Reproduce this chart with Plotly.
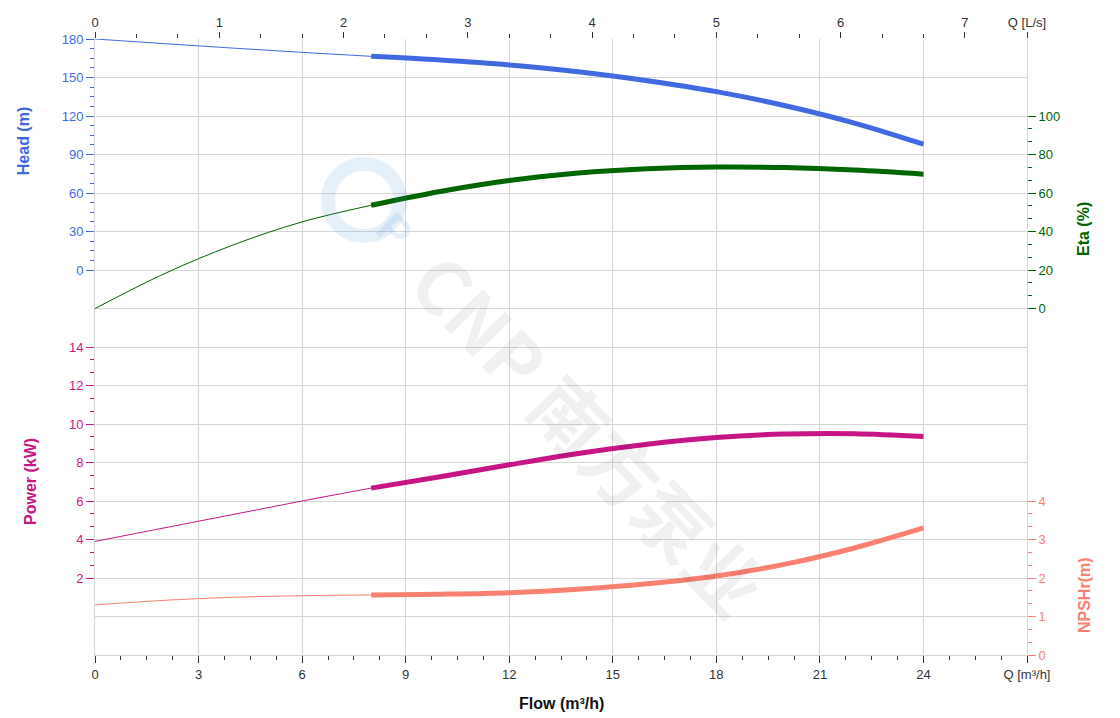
import plotly.graph_objects as go

# ---- data ----
flow_thin = [0, 2, 4, 6, 8]
flow_thick = [8, 10, 12, 14, 16, 18, 20, 22, 24]

head_thin = [180, 176.4, 172.9, 169.6, 166.5]
head_thick = [166.5, 163.6, 159.8, 154.5, 147.5, 139, 128, 114.5, 98]

eta_thin = [0, 18, 33, 45, 53.6]
eta_thick = [53.6, 60.8, 66.5, 70.4, 72.6, 73.5, 73.2, 71.9, 69.8]

power_thin = [3.9, 4.6, 5.3, 6.0, 6.67]
power_thick = [6.67, 7.26, 7.88, 8.47, 8.95, 9.3, 9.48, 9.5, 9.35]

npsh_thin = [1.3, 1.42, 1.5, 1.54, 1.56]
npsh_thick = [1.56, 1.58, 1.62, 1.71, 1.85, 2.05, 2.36, 2.78, 3.3]

flow_ticks = [0, 3, 6, 9, 12, 15, 18, 21, 24, 27]
flow_labels = ["0", "3", "6", "9", "12", "15", "18", "21", "24", "Q [m³/h]"]
ls_ticks = [0, 1, 2, 3, 4, 5, 6, 7, 7.5]
ls_labels = ["0", "1", "2", "3", "4", "5", "6", "7", "Q [L/s]"]

head_ticks = [0, 30, 60, 90, 120, 150, 180]
eta_ticks = [0, 20, 40, 60, 80, 100]
power_ticks = [2, 4, 6, 8, 10, 12, 14]
npsh_ticks = [0, 1, 2, 3, 4]

HEAD_C = "#4169E1"
ETA_C = "#006400"
POW_C = "#C71585"
NPSH_C = "#FA8072"
FONT = "Arial, Liberation Sans, sans-serif"
GRID = "#d6d6d6"

fig = go.Figure()

# invisible base traces so the main subplots exist
fig.add_trace(go.Scatter(x=[0, 27], y=[0, 16], xaxis="x", yaxis="y", mode="markers",
                         marker=dict(opacity=0), hoverinfo="skip", showlegend=False))
fig.add_trace(go.Scatter(x=[0, 7.5], y=[0, 16], xaxis="x2", yaxis="y", mode="markers",
                         marker=dict(opacity=0), hoverinfo="skip", showlegend=False))

def add_curve(xs, ys, yaxis, color, width):
    fig.add_trace(go.Scatter(x=xs, y=ys, xaxis="x", yaxis=yaxis, mode="lines",
                             line=dict(color=color, width=width, shape="spline"),
                             hoverinfo="skip", showlegend=False))

add_curve(flow_thin, head_thin, "y2", HEAD_C, 1)
add_curve(flow_thick, head_thick, "y2", HEAD_C, 5)
add_curve(flow_thin, eta_thin, "y4", ETA_C, 1)
add_curve(flow_thick, eta_thick, "y4", ETA_C, 5)
add_curve(flow_thin, power_thin, "y3", POW_C, 1)
add_curve(flow_thick, power_thick, "y3", POW_C, 5)
add_curve(flow_thin, npsh_thin, "y5", NPSH_C, 1)
add_curve(flow_thick, npsh_thick, "y5", NPSH_C, 5)

def minor_vals(lo, hi, step):
    out = []
    v = lo
    while v <= hi + 1e-9:
        out.append(round(v, 6))
        v += step
    return out

fig.update_layout(
    width=1120, height=718,
    margin=dict(l=87, r=101, t=31, b=71, autoexpand=False),
    paper_bgcolor="white", plot_bgcolor="white",
    font=dict(family=FONT),
    xaxis=dict(range=[0, 27], tickmode="array", tickvals=flow_ticks, ticktext=flow_labels,
               showgrid=True, gridcolor=GRID, gridwidth=1, zeroline=False,
               ticks="outside", ticklen=7, tickcolor="#333", tickfont=dict(family=FONT, size=13, color="#333"),
               minor=dict(tickvals=minor_vals(0, 27, 0.75), ticks="outside", ticklen=4, tickcolor="#333", showgrid=False),
               showline=True, linecolor=GRID, mirror=False),
    xaxis2=dict(range=[0, 7.5], overlaying="x", side="top", anchor="y", tickmode="array",
                tickvals=ls_ticks, ticktext=ls_labels, showgrid=False, zeroline=False,
                ticks="outside", ticklen=6, tickcolor="#333", tickfont=dict(family=FONT, size=13, color="#333"),
                minor=dict(tickvals=minor_vals(0, 7, 1/3), ticks="outside", ticklen=4, tickcolor="#333", showgrid=False),
                showline=False),
    yaxis=dict(range=[0, 16], dtick=1, showgrid=True, gridcolor=GRID, gridwidth=1,
               showticklabels=False, ticks="", zeroline=False,
               showline=True, linecolor=GRID, mirror=True),
    yaxis2=dict(range=[-300, 180], overlaying="y", anchor="x", side="left", tickmode="array",
                tickvals=head_ticks, showgrid=False, zeroline=False,
                ticks="outside", ticklen=8, tickcolor=HEAD_C, tickfont=dict(family=FONT, size=13, color=HEAD_C),
                minor=dict(tickvals=minor_vals(0, 180, 7.5), ticks="outside", ticklen=4, tickcolor=HEAD_C, showgrid=False),
                showline=False),
    yaxis3=dict(range=[-2, 30], overlaying="y", anchor="x", side="left", tickmode="array",
                tickvals=power_ticks, showgrid=False, zeroline=False,
                ticks="outside", ticklen=8, tickcolor=POW_C, tickfont=dict(family=FONT, size=13, color=POW_C),
                minor=dict(tickvals=minor_vals(2, 14, 2/3), ticks="outside", ticklen=4, tickcolor=POW_C, showgrid=False),
                showline=False),
    yaxis4=dict(range=[-180, 140], overlaying="y", anchor="x", side="right", tickmode="array",
                tickvals=eta_ticks, showgrid=False, zeroline=False,
                ticks="outside", ticklen=8, tickcolor=ETA_C, tickfont=dict(family=FONT, size=13, color=ETA_C),
                minor=dict(tickvals=minor_vals(0, 100, 20/3), ticks="outside", ticklen=4, tickcolor=ETA_C, showgrid=False),
                showline=False),
    yaxis5=dict(range=[0, 16], overlaying="y", anchor="x", side="right", tickmode="array",
                tickvals=npsh_ticks, showgrid=False, zeroline=False,
                ticks="outside", ticklen=8, tickcolor=NPSH_C, tickfont=dict(family=FONT, size=13, color=NPSH_C),
                minor=dict(tickvals=minor_vals(0, 4, 1/3), ticks="outside", ticklen=4, tickcolor=NPSH_C, showgrid=False),
                showline=False),
)

def title_ann(text, x, y, color, angle=-90):
    fig.add_annotation(text=f"<b>{text}</b>", xref="paper", yref="paper", x=x, y=y,
                       showarrow=False, textangle=angle, xanchor="center", yanchor="middle",
                       font=dict(family=FONT, size=16, color=color))

title_ann("Head (m)", -0.0773, 0.834, HEAD_C)
title_ann("Power (kW)", -0.0687, 0.2825, POW_C)
title_ann("Eta (%)", 1.0612, 0.6916, ETA_C)
title_ann("NPSHr(m)", 1.0612, 0.0974, NPSH_C)
title_ann("Flow (m³/h)", 0.5, -0.0795, "#111", angle=0)

# watermark
fig.add_annotation(text="<b>CNP 南方泵业</b>", xref="paper", yref="paper", x=0.532, y=0.362,
                   showarrow=False, textangle=46, xanchor="center", yanchor="middle",
                   font=dict(family="Noto Sans CJK SC, Arial", size=74, color="rgba(0,0,0,0.06)"))
fig.add_shape(type="circle", xref="paper", yref="paper",
              x0=(327 - 94) / 932, x1=(399 - 94) / 932, y0=(654 - 235) / 616, y1=(654 - 163) / 616,
              line=dict(color="rgba(60,140,210,0.13)", width=14))
fig.add_annotation(text="<b>P</b>", xref="paper", yref="paper", x=(363 - 94) / 932, y=(654 - 199) / 616,
                   showarrow=False, textangle=45, font=dict(family=FONT, size=44, color="rgba(60,140,210,0.13)"))

fig.write_html("out.html")
